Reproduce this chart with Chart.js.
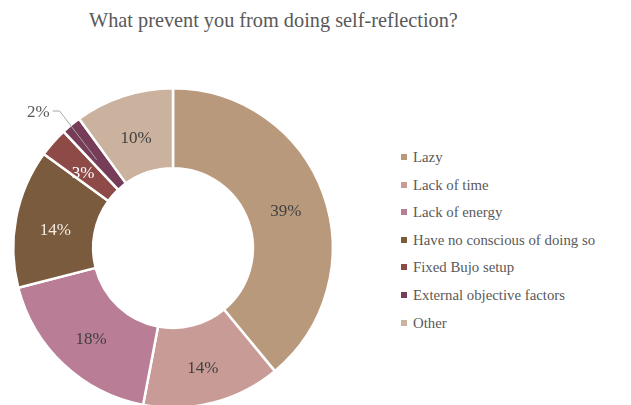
<!DOCTYPE html>
<html>
<head>
<meta charset="utf-8">
<script src="https://cdn.jsdelivr.net/npm/chart.js@4/dist/chart.umd.min.js"></script>
<style>
	html, body { margin: 0; padding: 0; background: #fff; overflow: hidden; }
	body { width: 631px; height: 405px; position: relative; }
	#title, #legend li { font-family: 'Liberation Serif', 'Times New Roman', serif; }
	#title { position: absolute; left: 89px; top: 9px; font-size: 20.3px; color: #595959; white-space: nowrap; }
	#wrap { position: absolute; left: 0; top: 75px; width: 346px; height: 346px; }
	#legend { position: absolute; left: 401px; top: 146px; margin: 0; padding: 0; list-style: none; }
	#legend li { height: 27.6px; line-height: 22px; font-size: 14.8px; color: #595959; white-space: nowrap; }
	#legend span { display: inline-block; width: 6px; height: 6px; margin-right: 6px; vertical-align: 2px; }
</style>
</head>
<body>
<div id="title">What prevent you from doing self-reflection?</div>
<div id="wrap"><canvas id="myChart" width="346" height="346"></canvas></div>
<ul id="legend"></ul>
<script>
	'use strict';
	// data
	var categories = ['Lazy', 'Lack of time', 'Lack of energy', 'Have no conscious of doing so', 'Fixed Bujo setup', 'External objective factors', 'Other'];
	var values = [39, 14, 18, 14, 3, 2, 10];
	var colours = ['#b9997c', '#c99b96', '#b97d95', '#7a5b3e', '#8d4a47', '#773c58', '#cbb29e'];
	var labelColours = ['#404040', '#404040', '#404040', '#f3ebe2', '#ffffff', '#404040', '#404040'];

	// legend, in html
	var legend = document.getElementById('legend');
	for (var i = 0; i < categories.length; i++) {
		var li = document.createElement('li');
		li.innerHTML = '<span style="background:' + colours[i] + '"></span>' + categories[i];
		legend.appendChild(li);
	}

	// percent labels on the slices, small ones go outside with a leader line
	var sliceLabels = {
		id: 'sliceLabels',
		afterDatasetsDraw: function(chart) {
			var ctx = chart.ctx;
			var meta = chart.getDatasetMeta(0);
			ctx.save();
			ctx.font = '17px "Liberation Serif"';
			ctx.textBaseline = 'alphabetic';
			meta.data.forEach(function(arc, i) {
				var p = arc.getProps(['x', 'y', 'startAngle', 'endAngle', 'innerRadius', 'outerRadius'], true);
				var mid = (p.startAngle + p.endAngle) / 2;
				var r = (p.innerRadius + p.outerRadius) / 2;
				var mx = p.x + Math.cos(mid) * r;
				var my = p.y + Math.sin(mid) * r;
				var txt = values[i] + '%';
				if (values[i] <= 2) {
					var ex = p.x + Math.cos(mid) * (p.outerRadius + 18);
					var ey = p.y + Math.sin(mid) * (p.outerRadius + 18);
					ctx.strokeStyle = '#a6a6a6';
					ctx.lineWidth = 1;
					ctx.beginPath();
					ctx.moveTo(mx, my + 4);
					ctx.lineTo(ex, ey);
					ctx.lineTo(ex - 7, ey);
					ctx.stroke();
					ctx.fillStyle = '#595959';
					ctx.textAlign = 'right';
					ctx.fillText(txt, ex - 10, ey + 6);
				} else {
					ctx.fillStyle = labelColours[i];
					ctx.textAlign = 'center';
					ctx.fillText(txt, mx, my + 9);
				}
			});
			ctx.restore();
		}
	};

	var ctx = document.getElementById('myChart').getContext('2d');
	var myChart = new Chart(ctx, {
		type: 'doughnut',
		data: {
			labels: categories,
			datasets: [{
				data: values,
				backgroundColor: colours,
				borderColor: '#ffffff',
				borderWidth: 2.5
			}]
		},
		options: {
			responsive: false,
			animation: false,
			cutout: '50%',
			layout: { padding: 12 },
			plugins: {
				legend: { display: false },
				tooltip: { enabled: false }
			}
		},
		plugins: [sliceLabels]
	});
</script>
</body>
</html>
